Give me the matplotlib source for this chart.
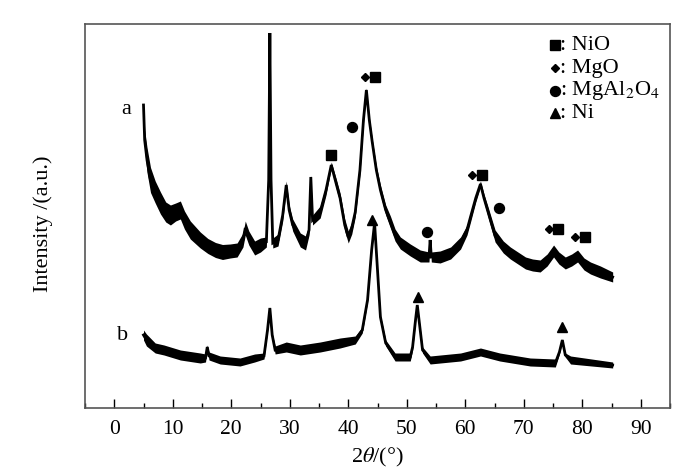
import matplotlib
matplotlib.use("Agg")
import matplotlib.pyplot as plt
import numpy as np
from matplotlib.ticker import MultipleLocator

plt.rcParams['font.family'] = ['Liberation Serif', 'DejaVu Serif']
plt.rcParams['mathtext.fontset'] = 'stix'

# ---- data (intensity in arbitrary units) ----
xa = [5.0, 5.2, 5.6, 6.2, 7.0, 7.9, 8.8, 9.6, 10.5, 11.3, 12.0, 13.0, 14.7, 16.0,
      17.3, 18.5, 19.8, 21.0, 22.0, 22.4, 23.0, 24.0, 25.0, 26.0, 26.4, 26.6, 26.8,
      27.1, 28.0, 28.8, 29.4, 29.9, 30.5, 31.8, 32.7, 33.3, 33.6, 33.9, 35.2, 36.2,
      37.1, 38.0, 38.6, 39.4, 40.0, 40.6, 41.2, 42.0, 42.6, 43.1, 43.6, 44.1, 44.8,
      45.5, 46.4, 47.2, 48.0, 48.9, 50.6, 52.3, 53.8, 54.0, 54.2, 55.7, 57.5, 59.2,
      60.3, 60.9, 61.8, 62.6, 63.2, 63.8, 65.1, 66.5, 67.7, 69.0, 70.3, 71.5, 72.8,
      74.0, 75.1, 76.0, 77.1, 78.2, 79.2, 80.3, 81.4, 83.1, 85.2]
ya = [303, 268, 248, 228, 216, 205, 196, 193, 196, 198, 188, 178, 168, 162,
      158, 156, 157, 158, 168, 180, 170, 160, 163, 166, 228, 375, 228,
      165, 168, 193, 223, 198, 183, 168, 165, 178, 231, 188, 196, 218,
      243, 223, 210, 183, 171, 180, 196, 238, 288, 318, 288, 266, 238,
      218, 198, 186, 173, 165, 158, 152, 151, 168, 151, 151, 155, 165,
      178, 191, 210, 224, 210, 198, 172, 161, 155, 150, 145, 143, 142,
      148, 157, 150, 145, 148, 152, 144, 140, 136, 131]
wa = [4, 20, 25, 25, 22, 22, 20, 20, 18, 18, 18, 18, 16, 15,
      15, 15, 14, 14, 14, 14, 14, 14, 14, 10, 2, 1, 2,
      10, 12, 12, 8, 10, 12, 14, 14, 10, 4, 10, 12, 10,
      6, 10, 10, 12, 12, 12, 10, 8, 6, 4, 6, 6, 8,
      10, 10, 12, 12, 12, 12, 12, 10, 2, 10, 12, 12, 12,
      10, 10, 8, 6, 8, 10, 12, 12, 12, 12, 12, 12, 12,
      12, 12, 12, 12, 12, 12, 12, 12, 12, 10]

xb = [5.0, 5.5, 7.0, 8.5, 11.3, 14.7, 15.6, 15.9, 16.2, 18.1, 21.5, 24.0, 25.6,
      26.2, 26.6, 27.0, 27.5, 29.4, 31.8, 35.2, 38.6, 41.2, 42.4, 43.3, 44.0,
      44.5, 45.0, 45.5, 46.4, 48.0, 50.6, 51.0, 51.5, 51.8, 52.2, 52.7, 54.0,
      59.2, 62.6, 65.9, 71.1, 75.4, 76.1, 76.6, 77.1, 78.0, 85.2]
yb = [73, 68, 60, 58, 53, 50, 50, 61, 52, 48, 46, 50, 52,
      78, 100, 73, 58, 61, 58, 61, 65, 68, 78, 108, 158,
      185, 138, 91, 65, 51, 51, 61, 88, 103, 83, 58, 48,
      51, 56, 51, 46, 45, 56, 68, 53, 48, 43]
wb = [10, 12, 10, 10, 10, 10, 8, 4, 8, 8, 8, 8, 6,
      3, 2, 4, 8, 10, 10, 10, 10, 8, 6, 4, 3,
      2, 3, 4, 6, 8, 8, 6, 4, 2, 4, 6, 8,
      8, 8, 8, 8, 8, 4, 2, 4, 8, 6]

# phase markers: (x, intensity)
nio_x = [37.1, 44.5, 62.9, 75.9, 80.5]
nio_y = [253, 331, 233, 179, 171]
mgo_x = [42.8, 61.2, 74.4, 78.8]
mgo_y = [331, 233, 179, 171]
spinel_x = [40.7, 53.5, 65.7]
spinel_y = [281, 176, 200]
ni_x = [44.0, 52.0, 76.6]
ni_y = [188, 111, 81]

legend_labels = [': NiO', ': MgO', r': MgAl$_2$O$_4$', ': Ni']

# ---- figure ----
fig = plt.figure(figsize=(7, 4.72), dpi=100)
ax = fig.add_axes([85/700, 1-408/472, 585/700, 384/472])

for x, y, w in ((xa, ya, wa), (xb, yb, wb)):
    x = np.array(x); y = np.array(y, float); w = np.array(w, float)
    ax.fill_between(x, y - w/2, y + w/2, color='black', lw=0)
    ax.plot(x, y, color='black', lw=2.0, solid_joinstyle='miter')

ms = 6.5
ax.plot(nio_x, nio_y, ls='none', marker='s', ms=ms, color='black')
ax.plot(mgo_x, mgo_y, ls='none', marker='D', ms=ms*0.7, color='black')
ax.plot(spinel_x, spinel_y, ls='none', marker='o', ms=ms*1.1, color='black')
ax.plot(ni_x, ni_y, ls='none', marker='^', ms=ms*1.1, color='black')

leg_markers = ['s', 'D', 'o', '^']
leg_ms = [ms, ms*0.7, ms*1.1, ms*1.1]
rows = [0.945, 0.885, 0.826, 0.768]
for mk, m_s, lab, ry in zip(leg_markers, leg_ms, legend_labels, rows):
    ax.plot([0.803], [ry], transform=ax.transAxes, marker=mk, ms=m_s,
            color='black', ls='none', clip_on=False)
    ax.text(0.812, ry, lab, transform=ax.transAxes, fontsize=16,
            va='center', ha='left')

ax.text(2.0, 408-110, 'a', fontsize=16, ha='center', va='center')
ax.text(1.5, 408-335, 'b', fontsize=16, ha='center', va='center')

ax.set_xlim(-5, 95)
ax.set_ylim(0, 384)
ax.xaxis.set_major_locator(MultipleLocator(10))
ax.xaxis.set_minor_locator(MultipleLocator(5))
ax.set_yticks([])
ax.tick_params(axis='x', which='major', direction='in', length=6.5, width=1,
               labelsize=15.5, pad=9)
ax.tick_params(axis='x', which='minor', direction='in', length=3.6, width=1)
for s in ax.spines.values():
    s.set_color('#555555')
    s.set_linewidth(1.2)

ax.set_xlabel(r'2$\it{\theta}$/(°)', fontsize=16, labelpad=5)
ax.set_ylabel('Intensity /(a.u.)', fontsize=16)
ax.yaxis.set_label_coords(-0.055, 0.48)

fig.savefig('out.png', dpi=100)
